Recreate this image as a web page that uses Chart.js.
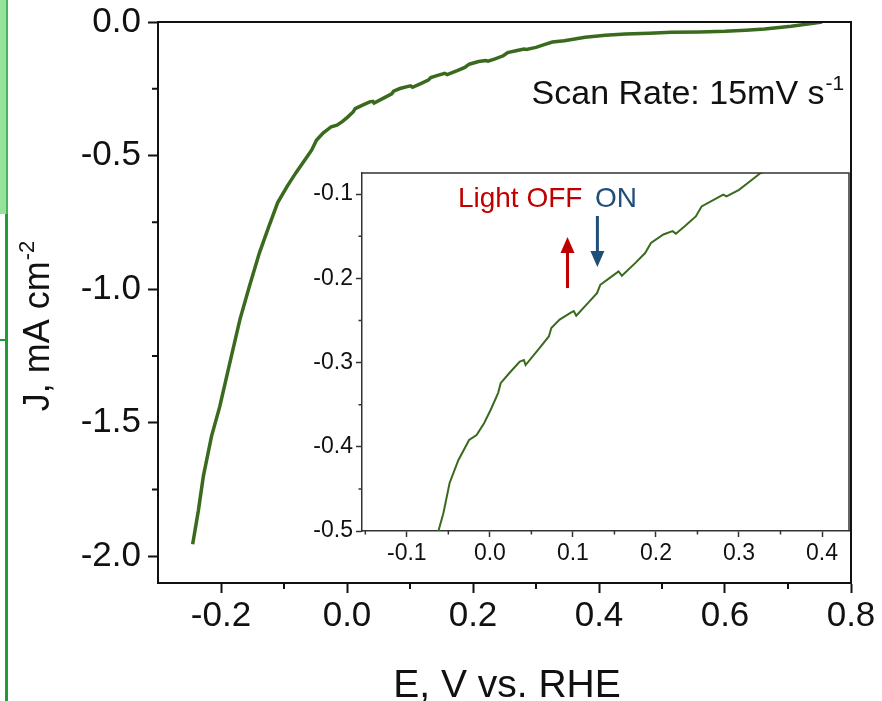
<!DOCTYPE html>
<html>
<head>
<meta charset="utf-8">
<script src="https://cdn.jsdelivr.net/npm/chart.js@4.4.1/dist/chart.umd.min.js"></script>
<style>
  html, body { margin: 0; padding: 0; background: #fff; }
  #wrap { position: relative; width: 882px; height: 701px; overflow: hidden; }
  #main { position: absolute; left: 0; top: 0; }
  #inset { position: absolute; left: 290px; top: 160px; }
  /* restos da borda verde do slide, à esquerda */
  .faixa { position: absolute; left: 0; top: 0; width: 6px; height: 214px; background: #95e29a; border-right: 2px solid #46b45a; }
  .linha-v { position: absolute; left: 5px; top: 214px; width: 3px; height: 487px; background: #1f9b3c; }
  .linha-h { position: absolute; left: 0; top: 339px; width: 6px; height: 2px; background: #1f9b3c; }
</style>
</head>
<body>
<div id="wrap">
  <div class="faixa"></div>
  <div class="linha-v"></div>
  <div class="linha-h"></div>
  <canvas id="main" width="882" height="701"></canvas>
  <canvas id="inset" width="570" height="420"></canvas>
</div>
<script>
// Curva LSV: potencial (V vs RHE) e densidade de corrente (mA cm-2)
const potencial = [
  -0.245, -0.236, -0.228, -0.215, -0.202, -0.186, -0.170, -0.155, -0.139, -0.124,
  -0.110, -0.095, -0.081, -0.062, -0.056, -0.0485, -0.038, -0.025, -0.016, -0.007,
  0.001, 0.010, 0.013, 0.023, 0.036, 0.041, 0.043, 0.058, 0.071, 0.074,
  0.084, 0.097, 0.101, 0.104, 0.118, 0.129, 0.133, 0.144, 0.155, 0.159,
  0.175, 0.187, 0.194, 0.209, 0.220, 0.224, 0.235, 0.248, 0.255, 0.270,
  0.281, 0.285, 0.300, 0.313, 0.326, 0.345, 0.378, 0.410, 0.442, 0.480,
  0.515, 0.560, 0.600, 0.633, 0.663, 0.705, 0.737, 0.754
];
const corrente = [
  -1.955, -1.83, -1.70, -1.55, -1.44, -1.276, -1.114, -0.99, -0.864, -0.765,
  -0.676, -0.615, -0.564, -0.500, -0.479, -0.443, -0.416, -0.392, -0.386, -0.372,
  -0.356, -0.336, -0.3245, -0.313, -0.299, -0.297, -0.303, -0.285, -0.269, -0.259,
  -0.249, -0.241, -0.239, -0.2445, -0.2295, -0.2176, -0.2077, -0.1998, -0.1919, -0.197,
  -0.182, -0.170, -0.158, -0.148, -0.144, -0.147, -0.138, -0.1265, -0.1147, -0.1067,
  -0.1008, -0.1028, -0.095, -0.085, -0.075, -0.070, -0.0575, -0.050, -0.045, -0.042,
  -0.0387, -0.037, -0.035, -0.031, -0.026, -0.016, -0.006, 0.0
];

// Marcas dos eixos
const mainXTicks = [-0.2, 0.0, 0.2, 0.4, 0.6, 0.8];
const mainXMinor = [-0.1, 0.1, 0.3, 0.5, 0.7];
const mainYTicks = [-2.0, -1.5, -1.0, -0.5, 0.0];
const mainYMinor = [-1.75, -1.25, -0.75, -0.25];
const insetXTicks = [-0.1, 0.0, 0.1, 0.2, 0.3, 0.4];
const insetXMinor = [-0.15, -0.05, 0.05, 0.15, 0.25, 0.35];
const insetYTicks = [-0.5, -0.4, -0.3, -0.2, -0.1];
const insetYMinor = [-0.45, -0.35, -0.25, -0.15];

const FONTE = "'Liberation Sans', Arial, sans-serif";
const VERDE = '#3a6a1e';

const pontos = potencial.map((e, i) => ({ x: e, y: corrente[i] }));

// texto com expoente (ex.: cm-2, s-1)
function textoExpoente(ctx, base, sup, x, y, tam, align) {
  ctx.save();
  ctx.translate(x, y);
  ctx.font = tam + 'px ' + FONTE;
  const wb = ctx.measureText(base).width;
  ctx.font = Math.round(tam * 0.62) + 'px ' + FONTE;
  const ws = ctx.measureText(sup).width;
  let x0 = 0;
  if (align === 'center') x0 = -(wb + ws) / 2;
  ctx.textAlign = 'left';
  ctx.textBaseline = 'alphabetic';
  ctx.font = tam + 'px ' + FONTE;
  ctx.fillText(base, x0, 0);
  ctx.font = Math.round(tam * 0.62) + 'px ' + FONTE;
  ctx.fillText(sup, x0 + wb + 1, -tam * 0.42);
  ctx.restore();
}

// moldura (topo e direita) + marcas secundárias
const molduraPlugin = {
  id: 'moldura',
  afterDatasetsDraw(chart, args, o) {
    const { ctx, chartArea: a, scales } = chart;
    ctx.save();
    ctx.strokeStyle = o.color;
    ctx.lineWidth = o.width;
    ctx.beginPath();
    ctx.moveTo(a.left, a.top);
    ctx.lineTo(a.right, a.top);
    ctx.lineTo(a.right, a.bottom);
    ctx.stroke();
    ctx.beginPath();
    o.xMinor.forEach(v => {
      const px = scales.x.getPixelForValue(v);
      ctx.moveTo(px, a.bottom);
      ctx.lineTo(px, a.bottom + o.len);
    });
    o.yMinor.forEach(v => {
      const py = scales.y.getPixelForValue(v);
      ctx.moveTo(a.left, py);
      ctx.lineTo(a.left - o.len, py);
    });
    ctx.stroke();
    ctx.restore();
  }
};

// títulos e anotação do gráfico principal
const textosPlugin = {
  id: 'textos',
  afterDraw(chart) {
    const { ctx, chartArea: a, scales } = chart;
    ctx.save();
    ctx.fillStyle = '#111';
    // título do eixo x
    ctx.font = '39px ' + FONTE;
    ctx.textAlign = 'center';
    ctx.textBaseline = 'alphabetic';
    ctx.fillText('E, V vs. RHE', 507, 697);
    // título do eixo y (rotacionado)
    ctx.save();
    ctx.translate(49, scales.y.getPixelForValue(-1.14));
    ctx.rotate(-Math.PI / 2);
    textoExpoente(ctx, 'J, mA cm', '-2', 0, 0, 36, 'center');
    ctx.restore();
    // taxa de varredura
    textoExpoente(ctx, 'Scan Rate: 15mV s', '-1', scales.x.getPixelForValue(0.293), scales.y.getPixelForValue(-0.308), 34, 'left');
    ctx.restore();
  }
};

// setas Light OFF / ON no inset
const luzPlugin = {
  id: 'luz',
  afterDraw(chart) {
    const { ctx, scales } = chart;
    const sx = v => scales.x.getPixelForValue(v);
    const sy = v => scales.y.getPixelForValue(v);
    ctx.save();
    ctx.font = '28px ' + FONTE;
    ctx.textAlign = 'left';
    ctx.textBaseline = 'alphabetic';
    ctx.fillStyle = '#c00000';
    ctx.fillText('Light OFF', sx(-0.0385), sy(-0.1155));
    ctx.fillStyle = '#1f4e79';
    ctx.fillText('ON', sx(0.1265), sy(-0.1155));

    function seta(x, y0, y1, cor) {
      const px = sx(x), p0 = sy(y0), p1 = sy(y1);
      const dir = p1 > p0 ? 1 : -1;
      ctx.strokeStyle = cor;
      ctx.fillStyle = cor;
      ctx.lineWidth = 3;
      ctx.beginPath();
      ctx.moveTo(px, p0);
      ctx.lineTo(px, p1 - dir * 12);
      ctx.stroke();
      ctx.beginPath();
      ctx.moveTo(px, p1);
      ctx.lineTo(px - 7, p1 - dir * 16);
      ctx.lineTo(px + 7, p1 - dir * 16);
      ctx.closePath();
      ctx.fill();
    }
    seta(0.0935, -0.2116, -0.151, '#c00000');
    seta(0.1295, -0.126, -0.1866, '#1f4e79');
    ctx.restore();
  }
};

function eixo(min, max, marcas, largura, cor, tam, tick, pad, ehY, ajuste) {
  return {
    type: 'linear',
    min: min,
    max: max,
    afterBuildTicks: s => { s.ticks = marcas.map(v => ({ value: v })); },
    afterFit: s => {
      if (ehY) s.width = ajuste; else s.height = ajuste;
      s.paddingLeft = s.paddingRight = s.paddingTop = s.paddingBottom = 0;
    },
    border: { display: true, color: cor, width: largura },
    grid: { drawOnChartArea: false, drawTicks: true, tickLength: tick, tickWidth: largura, tickColor: cor },
    ticks: {
      color: '#111',
      padding: pad,
      font: { family: FONTE, size: tam },
      callback: v => Number(v).toFixed(1),
      maxRotation: 0,
      autoSkip: false
    }
  };
}

Chart.defaults.animation = false;

new Chart(document.getElementById('main'), {
  type: 'scatter',
  data: {
    datasets: [{
      data: pontos,
      showLine: true,
      borderColor: VERDE,
      borderWidth: 3.5,
      pointRadius: 0,
      tension: 0
    }]
  },
  options: {
    responsive: false,
    layout: { padding: { left: 0, top: 22, right: 31, bottom: 0 } },
    scales: {
      x: eixo(-0.3, 0.8, mainXTicks, 2, '#111', 35, 10, 2, false, 118),
      y: eixo(-2.1, 0.0, mainYTicks, 2, '#111', 35, 10, 7, true, 158)
    },
    plugins: {
      legend: { display: false },
      tooltip: { enabled: false },
      moldura: { color: '#111', width: 2, len: 6, xMinor: mainXMinor, yMinor: mainYMinor }
    }
  },
  plugins: [molduraPlugin, textosPlugin]
});

new Chart(document.getElementById('inset'), {
  type: 'scatter',
  data: {
    datasets: [{
      data: pontos,
      showLine: true,
      borderColor: VERDE,
      borderWidth: 2,
      pointRadius: 0,
      tension: 0
    }]
  },
  options: {
    responsive: false,
    layout: { padding: { left: 0, top: 13, right: 11, bottom: 0 } },
    scales: {
      x: eixo(-0.154, 0.4325, insetXTicks, 1.5, '#333', 23, 6, 3, false, 49),
      y: eixo(-0.5, -0.075, insetYTicks, 1.5, '#333', 23, 6, 3, true, 72)
    },
    plugins: {
      legend: { display: false },
      tooltip: { enabled: false },
      moldura: { color: '#333', width: 1.5, len: 3.5, xMinor: insetXMinor, yMinor: insetYMinor }
    }
  },
  plugins: [molduraPlugin, luzPlugin]
});
</script>
</body>
</html>
